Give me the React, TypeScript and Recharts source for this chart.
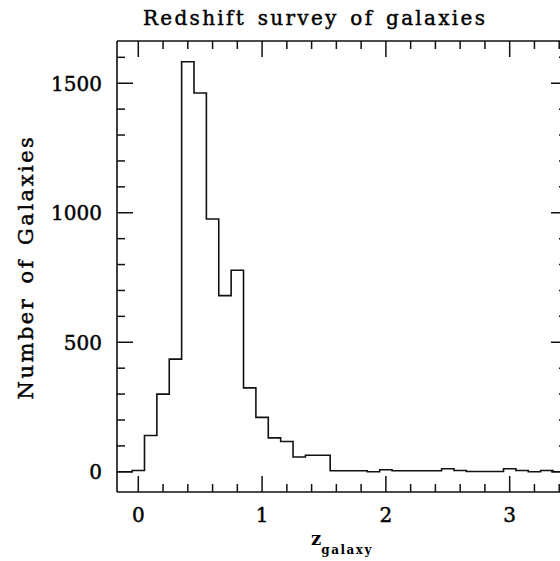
import React from 'react';
import { LineChart, Line, XAxis, YAxis } from 'recharts';

// Histogram of galaxy redshifts: bin centres (width 0.1) and counts per bin
const zCenters = [
  -0.2, -0.1, 0.0, 0.1, 0.2, 0.3, 0.4, 0.5, 0.6, 0.7, 0.8, 0.9, 1.0, 1.1, 1.2, 1.3, 1.4, 1.5, 1.6,
  1.7, 1.8, 1.9, 2.0, 2.1, 2.2, 2.3, 2.4, 2.5, 2.6, 2.7, 2.8, 2.9, 3.0, 3.1, 3.2, 3.3, 3.4, 3.5,
];
const galaxyCounts = [
  0, 0, 5, 140, 300, 435, 1583, 1462, 976, 680, 778, 324, 210, 131, 117, 57, 64, 64, 4,
  4, 4, 0, 8, 4, 4, 4, 4, 12, 5, 1, 1, 1, 12, 5, 0, 5, 0, 0,
];
const BIN_WIDTH = 0.1;

// Axis ticks (minor + major)
const xTicks = [0, 0.2, 0.4, 0.6, 0.8, 1, 1.2, 1.4, 1.6, 1.8, 2, 2.2, 2.4, 2.6, 2.8, 3, 3.2, 3.4];
const xMajorTicks = [0, 1, 2, 3];
const yTicks = [0, 100, 200, 300, 400, 500, 600, 700, 800, 900, 1000, 1100, 1200, 1300, 1400, 1500, 1600];
const yMajorTicks = [0, 500, 1000, 1500];

const X_DOMAIN: [number, number] = [-0.172, 3.463];
const Y_DOMAIN: [number, number] = [-78, 1663];

const TITLE = 'Redshift survey of galaxies';
const Y_LABEL = 'Number of Galaxies';
const X_LABEL_MAIN = 'z';
const X_LABEL_SUB = 'galaxy';

// stepAfter line from left bin edges, with a closing edge for the last bin
const histData = zCenters.map((c, i) => ({
  z: Math.round((c - BIN_WIDTH / 2) * 100) / 100,
  n: galaxyCounts[i],
}));
histData.push({
  z: Math.round((zCenters[zCenters.length - 1] + BIN_WIDTH / 2) * 100) / 100,
  n: galaxyCounts[galaxyCounts.length - 1],
});

const INK = '#111';
const FONT = '"DejaVu Serif", serif';
const MAJOR_LEN = 16;
const MINOR_LEN = 8;
const TICK_W = 1.5;
const TEXT_STROKE = 0.45;

function BottomTick(props: any) {
  const { x, y, payload } = props;
  const major = xMajorTicks.includes(payload.value);
  return (
    <g>
      <line x1={x} x2={x} y1={y} y2={y - (major ? MAJOR_LEN : MINOR_LEN)} stroke={INK} strokeWidth={TICK_W} />
      {major && (
        <text
          x={x}
          y={y + 30}
          textAnchor="middle"
          fontFamily={FONT}
          fontSize={20}
          fill="#000"
          stroke="#000"
          strokeWidth={TEXT_STROKE}
        >
          {payload.value}
        </text>
      )}
    </g>
  );
}

function TopTick(props: any) {
  const { x, y, payload } = props;
  const major = xMajorTicks.includes(payload.value);
  return <line x1={x} x2={x} y1={y} y2={y + (major ? MAJOR_LEN : MINOR_LEN)} stroke={INK} strokeWidth={TICK_W} />;
}

function LeftTick(props: any) {
  const { x, y, payload } = props;
  const major = yMajorTicks.includes(payload.value);
  return (
    <g>
      <line x1={x} x2={x + (major ? MAJOR_LEN : MINOR_LEN)} y1={y} y2={y} stroke={INK} strokeWidth={TICK_W} />
      {major && (
        <text
          x={x - 15}
          y={y + 7.5}
          textAnchor="end"
          fontFamily={FONT}
          fontSize={20}
          fill="#000"
          stroke="#000"
          strokeWidth={TEXT_STROKE}
        >
          {payload.value}
        </text>
      )}
    </g>
  );
}

function RightTick(props: any) {
  const { x, y, payload } = props;
  const major = yMajorTicks.includes(payload.value);
  return <line x1={x} x2={x - (major ? MAJOR_LEN : MINOR_LEN)} y1={y} y2={y} stroke={INK} strokeWidth={TICK_W} />;
}

const axisLine = { stroke: INK, strokeWidth: 1.6 };

export default function App() {
  return (
    <div
      style={{
        position: 'fixed',
        left: 0,
        top: 0,
        width: 560,
        height: 561,
        overflow: 'hidden',
        background: '#fff',
      }}
    >
      <div style={{ position: 'relative', width: 600, height: 561 }}>
        <LineChart width={600} height={561} data={histData} margin={{ top: 40, right: 32, bottom: 68, left: 0 }}>
          <XAxis
            xAxisId="bottom"
            orientation="bottom"
            type="number"
            dataKey="z"
            domain={X_DOMAIN}
            allowDataOverflow
            ticks={xTicks}
            interval={0}
            height={1}
            tickSize={0}
            tickMargin={0}
            tickLine={false}
            axisLine={axisLine}
            tick={BottomTick}
          />
          <XAxis
            xAxisId="top"
            orientation="top"
            type="number"
            dataKey="z"
            domain={X_DOMAIN}
            allowDataOverflow
            ticks={xTicks}
            interval={0}
            height={1}
            tickSize={0}
            tickMargin={0}
            tickLine={false}
            axisLine={axisLine}
            tick={TopTick}
          />
          <YAxis
            yAxisId="left"
            orientation="left"
            type="number"
            domain={Y_DOMAIN}
            allowDataOverflow
            ticks={yTicks}
            interval={0}
            width={117}
            tickSize={0}
            tickMargin={0}
            tickLine={false}
            axisLine={axisLine}
            tick={LeftTick}
          />
          <YAxis
            yAxisId="right"
            orientation="right"
            type="number"
            domain={Y_DOMAIN}
            allowDataOverflow
            ticks={yTicks}
            interval={0}
            width={1}
            tickSize={0}
            tickMargin={0}
            tickLine={false}
            axisLine={axisLine}
            tick={RightTick}
          />
          <Line
            xAxisId="bottom"
            yAxisId="left"
            type="stepAfter"
            dataKey="n"
            stroke={INK}
            strokeWidth={1.6}
            dot={false}
            activeDot={false}
            isAnimationActive={false}
          />
        </LineChart>
        <svg
          width={600}
          height={561}
          style={{ position: 'absolute', left: 0, top: 0, pointerEvents: 'none' }}
        >
          <text
            x={143}
            y={25}
            fontFamily={FONT}
            fontSize={20}
            letterSpacing={2.3}
            wordSpacing={3}
            fill="#000"
            stroke="#000"
            strokeWidth={TEXT_STROKE}
          >
            {TITLE}
          </text>
          <text
            x={33}
            y={267}
            transform="rotate(-90, 33, 267)"
            textAnchor="middle"
            fontFamily={FONT}
            fontSize={21}
            letterSpacing={2.5}
            wordSpacing={4}
            fill="#000"
            stroke="#000"
            strokeWidth={TEXT_STROKE}
          >
            {Y_LABEL}
          </text>
          <text x={311} y={545} fontFamily={FONT} fontWeight="bold" fill="#000">
            <tspan fontSize={18}>{X_LABEL_MAIN}</tspan>
            <tspan fontSize={12} dy={9} letterSpacing={1.5}>
              {X_LABEL_SUB}
            </tspan>
          </text>
        </svg>
      </div>
    </div>
  );
}
